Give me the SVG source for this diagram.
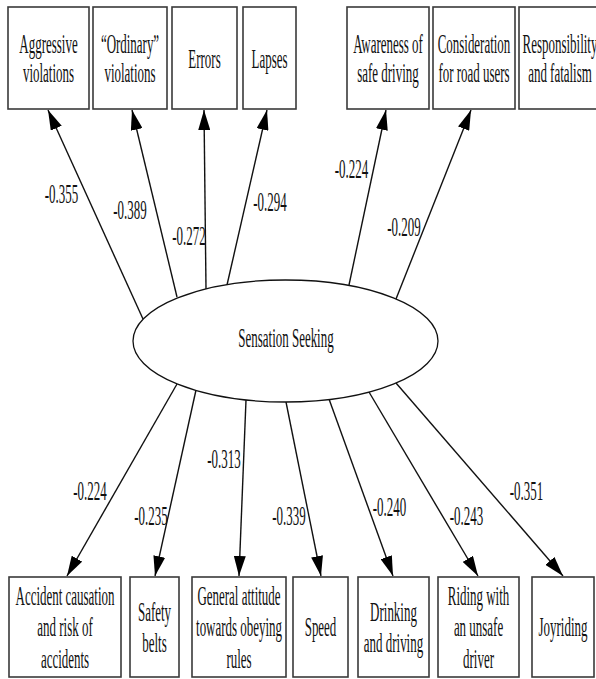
<svg xmlns="http://www.w3.org/2000/svg" width="596" height="679" viewBox="0 0 596 679">
  <style>
    .box { fill: #ffffff; stroke: #3a3a3a; stroke-width: 1.6; }
    .lat { fill: #ffffff; stroke: #111111; stroke-width: 1.3; }
    .t { font-family: "Liberation Serif", "Times New Roman", serif; font-size: 27px; fill: #111111; text-anchor: middle; }
    .edge { stroke: #111111; stroke-width: 1.4; fill: none; marker-end: url(#head); }
  </style>
  <defs>
    <marker id="head" markerUnits="userSpaceOnUse" viewBox="0 0 20 12" refX="20" refY="6" markerWidth="20" markerHeight="12" orient="auto">
      <path d="M0,0 L20,6 L0,12 Z" fill="#000000"/>
    </marker>
  </defs>
  <rect width="596" height="679" fill="#ffffff"/>

  <!-- connectors from the latent variable to the indicators -->
  <g id="connectors">
    <line class="edge" x1="143" y1="319" x2="48" y2="110"/>
    <line class="edge" x1="177" y1="297" x2="132" y2="110"/>
    <line class="edge" x1="206" y1="289" x2="204" y2="110"/>
    <line class="edge" x1="227" y1="285" x2="267" y2="110"/>
    <line class="edge" x1="349" y1="285" x2="386" y2="110"/>
    <line class="edge" x1="396" y1="299" x2="471" y2="110"/>

    <line class="edge" x1="177" y1="384" x2="67" y2="576"/>
    <line class="edge" x1="196" y1="390" x2="155" y2="576"/>
    <line class="edge" x1="246" y1="400" x2="239" y2="576"/>
    <line class="edge" x1="286" y1="402" x2="321" y2="576"/>
    <line class="edge" x1="329" y1="399" x2="393" y2="576"/>
    <line class="edge" x1="369" y1="392" x2="478" y2="576"/>
    <line class="edge" x1="396" y1="383" x2="563" y2="576"/>

    <!-- path coefficients -->
    <g id="labels">
      <text class="t" transform="translate(61.5 203) scale(0.48 1)">-0.355</text>
      <text class="t" transform="translate(130 219) scale(0.48 1)">-0.389</text>
      <text class="t" transform="translate(189 245) scale(0.48 1)">-0.272</text>
      <text class="t" transform="translate(270 211) scale(0.48 1)">-0.294</text>
      <text class="t" transform="translate(351.5 178) scale(0.48 1)">-0.224</text>
      <text class="t" transform="translate(404 236) scale(0.48 1)">-0.209</text>
      <text class="t" transform="translate(90 500) scale(0.48 1)">-0.224</text>
      <text class="t" transform="translate(151 525) scale(0.48 1)">-0.235</text>
      <text class="t" transform="translate(224 468) scale(0.48 1)">-0.313</text>
      <text class="t" transform="translate(289 525) scale(0.48 1)">-0.339</text>
      <text class="t" transform="translate(389.5 516) scale(0.48 1)">-0.240</text>
      <text class="t" transform="translate(466.5 525) scale(0.48 1)">-0.243</text>
      <text class="t" transform="translate(526.5 500) scale(0.48 1)">-0.351</text>
    </g>
  </g>

  <!-- latent variable -->
  <g id="sensation-seeking">
    <ellipse class="lat" cx="285.5" cy="341" rx="152.5" ry="61"/>
    <text class="t" transform="translate(286 347) scale(0.48 1)">Sensation Seeking</text>
  </g>

  <!-- upper indicators -->
  <g id="aggressive-violations">
    <rect class="box" x="8" y="7" width="81" height="102"/>
    <text class="t" transform="translate(48.5 53) scale(0.48 1)"><tspan x="0">Aggressive</tspan><tspan x="0" dy="29">violations</tspan></text>
  </g>
  <g id="ordinary-violations">
    <rect class="box" x="93" y="7" width="74" height="102"/>
    <text class="t" transform="translate(130 53) scale(0.48 1)"><tspan x="0">“Ordinary”</tspan><tspan x="0" dy="29">violations</tspan></text>
  </g>
  <g id="errors">
    <rect class="box" x="172" y="7" width="65" height="102"/>
    <text class="t" transform="translate(204.5 68) scale(0.48 1)">Errors</text>
  </g>
  <g id="lapses">
    <rect class="box" x="243" y="7" width="53" height="102"/>
    <text class="t" transform="translate(269.5 68) scale(0.48 1)">Lapses</text>
  </g>
  <g id="awareness">
    <rect class="box" x="347" y="7" width="82" height="102"/>
    <text class="t" transform="translate(388 53) scale(0.48 1)"><tspan x="0">Awareness of</tspan><tspan x="0" dy="29">safe driving</tspan></text>
  </g>
  <g id="consideration">
    <rect class="box" x="433" y="7" width="82" height="102"/>
    <text class="t" transform="translate(474 53) scale(0.48 1)"><tspan x="0">Consideration</tspan><tspan x="0" dy="29">for road users</tspan></text>
  </g>
  <g id="responsibility">
    <rect class="box" x="519" y="7" width="82" height="102"/>
    <text class="t" transform="translate(560 53) scale(0.48 1)"><tspan x="0">Responsibility</tspan><tspan x="0" dy="29">and fatalism</tspan></text>
  </g>

  <!-- lower indicators -->
  <g id="accident-causation">
    <rect class="box" x="9" y="577" width="112" height="100"/>
    <text class="t" transform="translate(65 605) scale(0.48 1)"><tspan x="0">Accident causation</tspan><tspan x="0" dy="31.5">and risk of</tspan><tspan x="0" dy="31.5">accidents</tspan></text>
  </g>
  <g id="safety-belts">
    <rect class="box" x="130" y="577" width="49" height="100"/>
    <text class="t" transform="translate(154.5 621) scale(0.48 1)"><tspan x="0">Safety</tspan><tspan x="0" dy="31">belts</tspan></text>
  </g>
  <g id="general-attitude">
    <rect class="box" x="192" y="577" width="94" height="100"/>
    <text class="t" transform="translate(239 605) scale(0.48 1)"><tspan x="0">General attitude</tspan><tspan x="0" dy="31.5">towards obeying</tspan><tspan x="0" dy="31.5">rules</tspan></text>
  </g>
  <g id="speed">
    <rect class="box" x="293" y="577" width="55" height="100"/>
    <text class="t" transform="translate(320.5 636) scale(0.48 1)">Speed</text>
  </g>
  <g id="drinking-driving">
    <rect class="box" x="358" y="577" width="71" height="100"/>
    <text class="t" transform="translate(393.5 621) scale(0.48 1)"><tspan x="0">Drinking</tspan><tspan x="0" dy="31">and driving</tspan></text>
  </g>
  <g id="riding-unsafe">
    <rect class="box" x="438" y="577" width="81" height="100"/>
    <text class="t" transform="translate(478.5 605) scale(0.48 1)"><tspan x="0">Riding with</tspan><tspan x="0" dy="31.5">an unsafe</tspan><tspan x="0" dy="31.5">driver</tspan></text>
  </g>
  <g id="joyriding">
    <rect class="box" x="532" y="577" width="62" height="100"/>
    <text class="t" transform="translate(563 636) scale(0.48 1)">Joyriding</text>
  </g>
</svg>
